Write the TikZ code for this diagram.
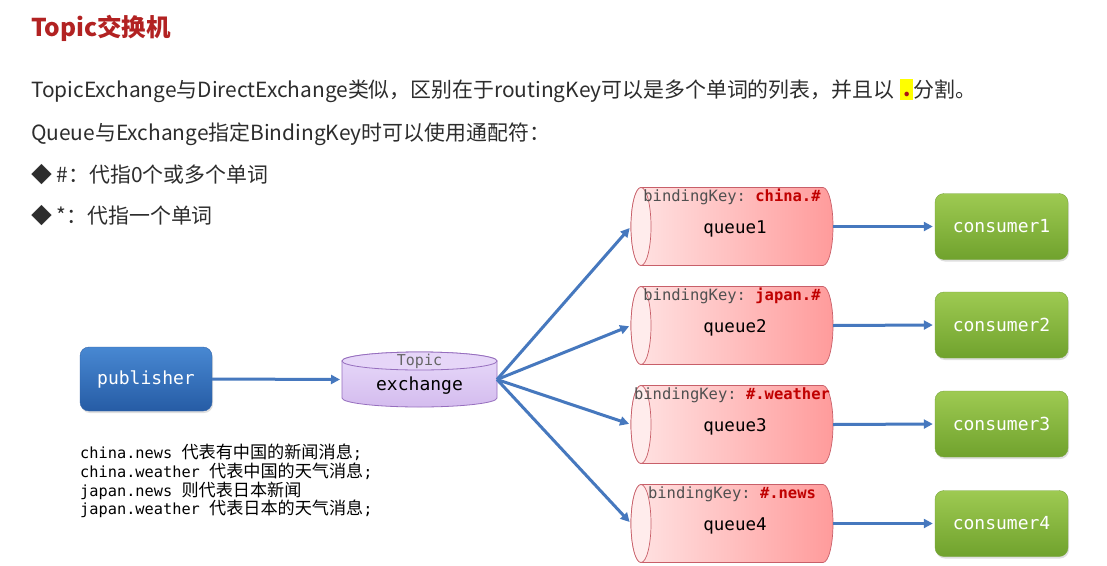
\documentclass[tikz,border=0pt]{standalone}
\usepackage{fontspec}
\setmainfont{Noto Sans CJK SC}
\setmonofont{DejaVu Sans Mono}
\newfontfamily\cjkn[Scale=1.12]{Noto Sans CJK SC}
\usetikzlibrary{arrows.meta,shadows}
\definecolor{titlered}{RGB}{178,34,34}
\definecolor{txt}{RGB}{45,45,45}
\definecolor{arrowblue}{RGB}{70,120,190}
\definecolor{keyred}{RGB}{192,0,0}
\definecolor{keygray}{RGB}{80,80,80}
\definecolor{hlyellow}{RGB}{255,255,0}
\definecolor{dotred}{RGB}{170,20,20}
\definecolor{pubTop}{RGB}{72,136,210}
\definecolor{pubBot}{RGB}{38,92,165}
\definecolor{pubBorder}{RGB}{50,100,170}
\definecolor{consTop}{RGB}{158,202,82}
\definecolor{consBot}{RGB}{112,162,45}
\definecolor{consBorder}{RGB}{120,165,60}
\definecolor{exTop}{RGB}{232,218,250}
\definecolor{exBot}{RGB}{212,188,238}
\definecolor{exBorder}{RGB}{150,110,190}
\definecolor{exLid}{RGB}{230,214,248}
\definecolor{qLeft}{RGB}{255,228,228}
\definecolor{qRight}{RGB}{255,155,155}
\definecolor{qBorder}{RGB}{200,95,105}
\definecolor{qEnd}{RGB}{255,236,236}
\tikzset{
  arr/.style={draw=arrowblue, line width=3pt, shorten >=2pt, -{Triangle[length=9pt,width=9pt]}},
  body/.style={anchor=base west, inner sep=0, text=txt, font=\fontsize{20.9}{24}\selectfont},
  pubbox/.style={rounded corners=9pt, minimum width=132pt, minimum height=64pt,
    top color=pubTop, bottom color=pubBot, draw=pubBorder, text=white,
    font=\ttfamily\fontsize{18}{20}\selectfont,
    drop shadow={opacity=0.25, shadow xshift=1pt, shadow yshift=-2pt}},
  consbox/.style={rounded corners=9pt, minimum width=133pt, minimum height=66pt,
    top color=consTop, bottom color=consBot, draw=consBorder, text=white,
    font=\ttfamily\fontsize{18}{20}\selectfont,
    drop shadow={opacity=0.25, shadow xshift=1pt, shadow yshift=-2pt}},
  qbox/.style={minimum width=202pt, minimum height=78pt, inner sep=0, outer sep=0},
  keytext/.style={font=\ttfamily\fontsize{15.5}{18}\selectfont, text=keygray, inner sep=0},
  qlabel/.style={font=\ttfamily\fontsize{17.5}{20}\selectfont, text=black, inner sep=0},
  notes/.style={anchor=base west, inner sep=0, text=black, font=\ttfamily\fontsize{15.3}{18}\selectfont},
}
\newcommand\drawqueue[4]{%
  \node[qbox] (#1) at (732,#2) {};
  \shade[left color=qLeft, right color=qRight, draw=qBorder, line width=0.7pt]
    (641,#2-39) -- (823,#2-39) arc[start angle=-90,end angle=90,x radius=10,y radius=39]
    -- (641,#2+39) arc[start angle=90,end angle=270,x radius=10,y radius=39] -- cycle;
  \draw[qBorder, line width=0.7pt, fill=qEnd] (641,#2) ellipse[x radius=10, y radius=39];
  \node[keytext] at (732,#2-29.5) {bindingKey: \textcolor{keyred}{\bfseries #3}};
  \node[qlabel] at (735,#2+2.5) {#4};
}
\begin{document}
\begin{tikzpicture}[x=1pt,y=-1pt]
\useasboundingbox[fill=white] (0,0) rectangle (1107,565);

% title and text
\node[anchor=base west, inner sep=0, text=titlered, font=\fontsize{24.5}{28}\selectfont\bfseries] (title) at (31,36) {Topic交换机};
\node[body] (l1) at (31,97) {TopicExchange与DirectExchange类似，区别在于routingKey可以是多个单词的列表，并且以\hspace{6pt}\raisebox{-3pt}{\fboxsep=0pt\colorbox{hlyellow}{\makebox[13pt]{\rule{0pt}{21pt}\raisebox{4pt}{\textcolor{dotred}{\bfseries .}}}}}分割。};
\node[body] (l2) at (31,140) {Queue与Exchange指定BindingKey时可以使用通配符：};
\node[body] (b1) at (31,182) {◆ \#：代指0个或多个单词};
\node[body] (b2) at (31,223) {◆ *：代指一个单词};

% publisher
\node[pubbox] (pub) at (146,379) {publisher};

% exchange
\node[minimum width=155pt, minimum height=55pt, inner sep=0, outer sep=0] (ex) at (419.5,379.5) {};
\shade[top color=exTop, bottom color=exBot, draw=exBorder, line width=0.8pt]
  (342,361) -- (342,398) arc[start angle=180,end angle=0,x radius=77.5,y radius=9]
  -- (497,361) arc[start angle=0,end angle=-180,x radius=77.5,y radius=9] -- cycle;
\draw[exBorder, line width=0.8pt, fill=exLid] (419.5,361) ellipse[x radius=77.5, y radius=9];
\node[font=\ttfamily\fontsize{15}{17}\selectfont, text=black!60, inner sep=0] (extopic) at (419.5,361) {Topic};
\node[font=\ttfamily\fontsize{18}{20}\selectfont, text=black, inner sep=0] (exlabel) at (419.5,386) {exchange};

% queues
\drawqueue{q1}{226.5}{china.\#}{queue1}
\drawqueue{q2}{325.5}{japan.\#}{queue2}
\drawqueue{q3}{424.5}{\#.weather}{queue3}
\drawqueue{q4}{523.5}{\#.news}{queue4}

% consumers
\node[consbox] (c1) at (1001.5,226.5) {consumer1};
\node[consbox] (c2) at (1001.5,325) {consumer2};
\node[consbox] (c3) at (1001.5,424) {consumer3};
\node[consbox] (c4) at (1001.5,523.5) {consumer4};

% connectors
\draw[arr] (pub.east) -- (ex.west);
\draw[arr] (ex.east) -- (q1.west);
\draw[arr] (ex.east) -- (q2.west);
\draw[arr] (ex.east) -- (q3.west);
\draw[arr] (ex.east) -- (q4.west);
\draw[arr] (q1.east) -- (c1.west);
\draw[arr] (q2.east) -- (c2.west);
\draw[arr] (q3.east) -- (c3.west);
\draw[arr] (q4.east) -- (c4.west);

% notes
\node[notes] (n1) at (80,458) {china.news {\cjkn 代表有中国的新闻消息};};
\node[notes] (n2) at (80,477) {china.weather {\cjkn 代表中国的天气消息};};
\node[notes] (n3) at (80,496) {japan.news {\cjkn 则代表日本新闻}};
\node[notes] (n4) at (80,514) {japan.weather {\cjkn 代表日本的天气消息};};
\end{tikzpicture}
\end{document}
